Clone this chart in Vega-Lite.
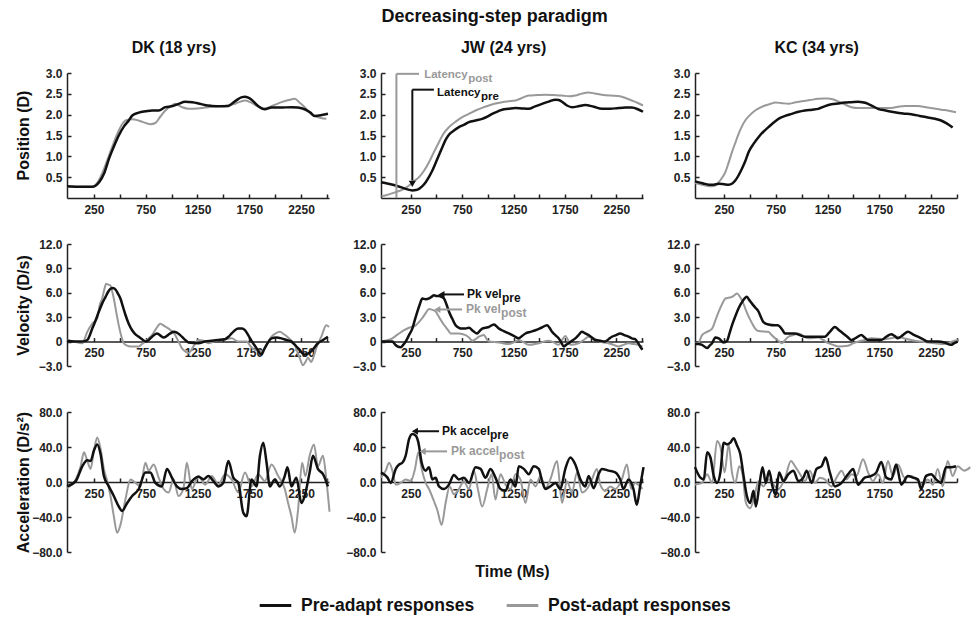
{
"$schema": "https://vega.github.io/schema/vega-lite/v6.json",
"background": "white",
"padding": {"left": 14, "top": 8, "right": 6, "bottom": 2},
"title": {"text": "Decreasing-step paradigm", "fontSize": 18, "fontWeight": "bold", "anchor": "middle", "frame": "bounds", "offset": 14, "color": "#111"},
"datasets": {
"dp": [
{"t":-10,"v":0.28,"s":"pre"},{"t":100,"v":0.27,"s":"pre"},{"t":235,"v":0.27,"s":"pre"},{"t":300,"v":0.38,"s":"pre"},{"t":350,"v":0.6,"s":"pre"},{"t":395,"v":0.94,"s":"pre"},{"t":440,"v":1.22,"s":"pre"},{"t":490,"v":1.5,"s":"pre"},{"t":540,"v":1.72,"s":"pre"},{"t":587,"v":1.86,"s":"pre"},{"t":620,"v":1.98,"s":"pre"},{"t":683,"v":2.05,"s":"pre"},{"t":750,"v":2.08,"s":"pre"},{"t":811,"v":2.1,"s":"pre"},{"t":875,"v":2.1,"s":"pre"},{"t":940,"v":2.18,"s":"pre"},{"t":1000,"v":2.2,"s":"pre"},{"t":1067,"v":2.26,"s":"pre"},{"t":1131,"v":2.31,"s":"pre"},{"t":1200,"v":2.3,"s":"pre"},{"t":1260,"v":2.27,"s":"pre"},{"t":1320,"v":2.23,"s":"pre"},{"t":1388,"v":2.21,"s":"pre"},{"t":1470,"v":2.2,"s":"pre"},{"t":1548,"v":2.21,"s":"pre"},{"t":1590,"v":2.28,"s":"pre"},{"t":1628,"v":2.35,"s":"pre"},{"t":1680,"v":2.42,"s":"pre"},{"t":1708,"v":2.43,"s":"pre"},{"t":1740,"v":2.41,"s":"pre"},{"t":1772,"v":2.36,"s":"pre"},{"t":1830,"v":2.22,"s":"pre"},{"t":1900,"v":2.13,"s":"pre"},{"t":1965,"v":2.17,"s":"pre"},{"t":2050,"v":2.17,"s":"pre"},{"t":2157,"v":2.18,"s":"pre"},{"t":2220,"v":2.17,"s":"pre"},{"t":2285,"v":2.13,"s":"pre"},{"t":2340,"v":2.05,"s":"pre"},{"t":2381,"v":1.97,"s":"pre"},{"t":2450,"v":1.99,"s":"pre"},{"t":2510,"v":2.02,"s":"pre"},
{"t":-10,"v":0.28,"s":"post"},{"t":100,"v":0.27,"s":"post"},{"t":235,"v":0.27,"s":"post"},{"t":300,"v":0.44,"s":"post"},{"t":350,"v":0.72,"s":"post"},{"t":395,"v":1.02,"s":"post"},{"t":440,"v":1.32,"s":"post"},{"t":490,"v":1.62,"s":"post"},{"t":530,"v":1.8,"s":"post"},{"t":555,"v":1.86,"s":"post"},{"t":620,"v":1.89,"s":"post"},{"t":680,"v":1.86,"s":"post"},{"t":715,"v":1.83,"s":"post"},{"t":795,"v":1.77,"s":"post"},{"t":843,"v":1.8,"s":"post"},{"t":890,"v":1.95,"s":"post"},{"t":940,"v":2.1,"s":"post"},{"t":990,"v":2.2,"s":"post"},{"t":1035,"v":2.26,"s":"post"},{"t":1100,"v":2.18,"s":"post"},{"t":1163,"v":2.14,"s":"post"},{"t":1250,"v":2.15,"s":"post"},{"t":1324,"v":2.17,"s":"post"},{"t":1440,"v":2.2,"s":"post"},{"t":1548,"v":2.22,"s":"post"},{"t":1620,"v":2.27,"s":"post"},{"t":1708,"v":2.34,"s":"post"},{"t":1760,"v":2.3,"s":"post"},{"t":1830,"v":2.2,"s":"post"},{"t":1900,"v":2.15,"s":"post"},{"t":1980,"v":2.22,"s":"post"},{"t":2061,"v":2.3,"s":"post"},{"t":2130,"v":2.35,"s":"post"},{"t":2189,"v":2.38,"s":"post"},{"t":2240,"v":2.28,"s":"post"},{"t":2285,"v":2.18,"s":"post"},{"t":2330,"v":2.05,"s":"post"},{"t":2381,"v":1.97,"s":"post"},{"t":2440,"v":1.92,"s":"post"},{"t":2494,"v":1.9,"s":"post"}
],
"jp": [
{"t":-40,"v":0.38,"s":"pre"},{"t":0,"v":0.36,"s":"pre"},{"t":104,"v":0.3,"s":"pre"},{"t":200,"v":0.22,"s":"pre"},{"t":265,"v":0.18,"s":"pre"},{"t":300,"v":0.19,"s":"pre"},{"t":330,"v":0.22,"s":"pre"},{"t":360,"v":0.28,"s":"pre"},{"t":395,"v":0.38,"s":"pre"},{"t":430,"v":0.52,"s":"pre"},{"t":460,"v":0.66,"s":"pre"},{"t":510,"v":0.95,"s":"pre"},{"t":557,"v":1.22,"s":"pre"},{"t":590,"v":1.4,"s":"pre"},{"t":621,"v":1.52,"s":"pre"},{"t":670,"v":1.62,"s":"pre"},{"t":718,"v":1.7,"s":"pre"},{"t":770,"v":1.76,"s":"pre"},{"t":816,"v":1.82,"s":"pre"},{"t":880,"v":1.86,"s":"pre"},{"t":945,"v":1.9,"s":"pre"},{"t":1000,"v":1.96,"s":"pre"},{"t":1042,"v":2.02,"s":"pre"},{"t":1100,"v":2.08,"s":"pre"},{"t":1139,"v":2.12,"s":"pre"},{"t":1200,"v":2.14,"s":"pre"},{"t":1269,"v":2.16,"s":"pre"},{"t":1330,"v":2.15,"s":"pre"},{"t":1398,"v":2.14,"s":"pre"},{"t":1460,"v":2.2,"s":"pre"},{"t":1528,"v":2.26,"s":"pre"},{"t":1600,"v":2.32,"s":"pre"},{"t":1657,"v":2.36,"s":"pre"},{"t":1690,"v":2.35,"s":"pre"},{"t":1722,"v":2.31,"s":"pre"},{"t":1770,"v":2.22,"s":"pre"},{"t":1819,"v":2.18,"s":"pre"},{"t":1880,"v":2.2,"s":"pre"},{"t":1948,"v":2.23,"s":"pre"},{"t":2030,"v":2.19,"s":"pre"},{"t":2110,"v":2.14,"s":"pre"},{"t":2190,"v":2.14,"s":"pre"},{"t":2272,"v":2.16,"s":"pre"},{"t":2340,"v":2.17,"s":"pre"},{"t":2401,"v":2.17,"s":"pre"},{"t":2460,"v":2.13,"s":"pre"},{"t":2510,"v":2.07,"s":"pre"},
{"t":-35,"v":0.04,"s":"post"},{"t":0,"v":0.06,"s":"post"},{"t":104,"v":0.14,"s":"post"},{"t":170,"v":0.2,"s":"post"},{"t":233,"v":0.3,"s":"post"},{"t":290,"v":0.42,"s":"post"},{"t":330,"v":0.5,"s":"post"},{"t":380,"v":0.66,"s":"post"},{"t":427,"v":0.86,"s":"post"},{"t":475,"v":1.1,"s":"post"},{"t":524,"v":1.34,"s":"post"},{"t":570,"v":1.55,"s":"post"},{"t":621,"v":1.7,"s":"post"},{"t":690,"v":1.84,"s":"post"},{"t":751,"v":1.94,"s":"post"},{"t":815,"v":2.02,"s":"post"},{"t":880,"v":2.1,"s":"post"},{"t":950,"v":2.17,"s":"post"},{"t":1010,"v":2.22,"s":"post"},{"t":1075,"v":2.27,"s":"post"},{"t":1139,"v":2.3,"s":"post"},{"t":1200,"v":2.32,"s":"post"},{"t":1269,"v":2.34,"s":"post"},{"t":1330,"v":2.4,"s":"post"},{"t":1398,"v":2.46,"s":"post"},{"t":1480,"v":2.47,"s":"post"},{"t":1560,"v":2.48,"s":"post"},{"t":1640,"v":2.47,"s":"post"},{"t":1722,"v":2.46,"s":"post"},{"t":1790,"v":2.44,"s":"post"},{"t":1851,"v":2.46,"s":"post"},{"t":1920,"v":2.51,"s":"post"},{"t":1980,"v":2.53,"s":"post"},{"t":2040,"v":2.51,"s":"post"},{"t":2110,"v":2.48,"s":"post"},{"t":2190,"v":2.46,"s":"post"},{"t":2272,"v":2.45,"s":"post"},{"t":2340,"v":2.4,"s":"post"},{"t":2401,"v":2.34,"s":"post"},{"t":2460,"v":2.28,"s":"post"},{"t":2510,"v":2.22,"s":"post"}
],
"kp": [
{"t":-30,"v":0.4,"s":"pre"},{"t":0,"v":0.38,"s":"pre"},{"t":50,"v":0.35,"s":"pre"},{"t":103,"v":0.32,"s":"pre"},{"t":150,"v":0.32,"s":"pre"},{"t":199,"v":0.34,"s":"pre"},{"t":250,"v":0.33,"s":"pre"},{"t":295,"v":0.32,"s":"pre"},{"t":330,"v":0.35,"s":"pre"},{"t":359,"v":0.42,"s":"pre"},{"t":390,"v":0.54,"s":"pre"},{"t":423,"v":0.7,"s":"pre"},{"t":455,"v":0.88,"s":"pre"},{"t":487,"v":1.1,"s":"pre"},{"t":535,"v":1.3,"s":"pre"},{"t":583,"v":1.46,"s":"pre"},{"t":630,"v":1.59,"s":"pre"},{"t":679,"v":1.7,"s":"pre"},{"t":730,"v":1.81,"s":"pre"},{"t":776,"v":1.9,"s":"pre"},{"t":840,"v":1.97,"s":"pre"},{"t":904,"v":2.02,"s":"pre"},{"t":970,"v":2.07,"s":"pre"},{"t":1032,"v":2.1,"s":"pre"},{"t":1100,"v":2.12,"s":"pre"},{"t":1160,"v":2.14,"s":"pre"},{"t":1220,"v":2.2,"s":"pre"},{"t":1288,"v":2.25,"s":"pre"},{"t":1350,"v":2.27,"s":"pre"},{"t":1417,"v":2.29,"s":"pre"},{"t":1480,"v":2.3,"s":"pre"},{"t":1545,"v":2.31,"s":"pre"},{"t":1600,"v":2.29,"s":"pre"},{"t":1641,"v":2.26,"s":"pre"},{"t":1690,"v":2.2,"s":"pre"},{"t":1737,"v":2.14,"s":"pre"},{"t":1810,"v":2.1,"s":"pre"},{"t":1897,"v":2.06,"s":"pre"},{"t":1980,"v":2.03,"s":"pre"},{"t":2058,"v":2.01,"s":"pre"},{"t":2140,"v":1.97,"s":"pre"},{"t":2218,"v":1.93,"s":"pre"},{"t":2290,"v":1.9,"s":"pre"},{"t":2346,"v":1.86,"s":"pre"},{"t":2400,"v":1.79,"s":"pre"},{"t":2458,"v":1.69,"s":"pre"},
{"t":-30,"v":0.36,"s":"post"},{"t":0,"v":0.34,"s":"post"},{"t":71,"v":0.3,"s":"post"},{"t":135,"v":0.28,"s":"post"},{"t":170,"v":0.31,"s":"post"},{"t":199,"v":0.38,"s":"post"},{"t":230,"v":0.48,"s":"post"},{"t":263,"v":0.62,"s":"post"},{"t":295,"v":0.85,"s":"post"},{"t":327,"v":1.1,"s":"post"},{"t":360,"v":1.33,"s":"post"},{"t":391,"v":1.54,"s":"post"},{"t":423,"v":1.72,"s":"post"},{"t":455,"v":1.86,"s":"post"},{"t":500,"v":1.99,"s":"post"},{"t":551,"v":2.1,"s":"post"},{"t":600,"v":2.17,"s":"post"},{"t":647,"v":2.22,"s":"post"},{"t":700,"v":2.26,"s":"post"},{"t":744,"v":2.29,"s":"post"},{"t":800,"v":2.28,"s":"post"},{"t":872,"v":2.26,"s":"post"},{"t":930,"v":2.29,"s":"post"},{"t":1000,"v":2.32,"s":"post"},{"t":1080,"v":2.35,"s":"post"},{"t":1160,"v":2.38,"s":"post"},{"t":1210,"v":2.39,"s":"post"},{"t":1256,"v":2.39,"s":"post"},{"t":1300,"v":2.37,"s":"post"},{"t":1353,"v":2.32,"s":"post"},{"t":1420,"v":2.24,"s":"post"},{"t":1481,"v":2.18,"s":"post"},{"t":1545,"v":2.16,"s":"post"},{"t":1609,"v":2.16,"s":"post"},{"t":1737,"v":2.16,"s":"post"},{"t":1865,"v":2.16,"s":"post"},{"t":1930,"v":2.19,"s":"post"},{"t":1994,"v":2.21,"s":"post"},{"t":2060,"v":2.21,"s":"post"},{"t":2122,"v":2.21,"s":"post"},{"t":2200,"v":2.18,"s":"post"},{"t":2282,"v":2.15,"s":"post"},{"t":2350,"v":2.12,"s":"post"},{"t":2410,"v":2.1,"s":"post"},{"t":2490,"v":2.06,"s":"post"}
],
"dv": [
{"t":-10,"v":0.1,"s":"pre"},{"t":60,"v":0,"s":"pre"},{"t":138,"v":0,"s":"pre"},{"t":186,"v":0.2,"s":"pre"},{"t":234,"v":1.6,"s":"pre"},{"t":266,"v":2.6,"s":"pre"},{"t":298,"v":3.7,"s":"pre"},{"t":330,"v":4.7,"s":"pre"},{"t":362,"v":5.5,"s":"pre"},{"t":386,"v":6.1,"s":"pre"},{"t":410,"v":6.5,"s":"pre"},{"t":434,"v":6.6,"s":"pre"},{"t":458,"v":6.4,"s":"pre"},{"t":482,"v":5.9,"s":"pre"},{"t":506,"v":5.3,"s":"pre"},{"t":530,"v":4.3,"s":"pre"},{"t":554,"v":3.3,"s":"pre"},{"t":586,"v":2.2,"s":"pre"},{"t":619,"v":1.4,"s":"pre"},{"t":651,"v":0.9,"s":"pre"},{"t":683,"v":0.6,"s":"pre"},{"t":715,"v":0.3,"s":"pre"},{"t":747,"v":0,"s":"pre"},{"t":779,"v":0.2,"s":"pre"},{"t":811,"v":0.6,"s":"pre"},{"t":859,"v":1.0,"s":"pre"},{"t":923,"v":0.5,"s":"pre"},{"t":987,"v":1.0,"s":"pre"},{"t":1019,"v":1.2,"s":"pre"},{"t":1051,"v":1.1,"s":"pre"},{"t":1083,"v":0.8,"s":"pre"},{"t":1123,"v":0.3,"s":"pre"},{"t":1163,"v":-0.1,"s":"pre"},{"t":1260,"v":-0.2,"s":"pre"},{"t":1320,"v":0,"s":"pre"},{"t":1388,"v":0.1,"s":"pre"},{"t":1450,"v":0.2,"s":"pre"},{"t":1516,"v":0.3,"s":"pre"},{"t":1550,"v":0.6,"s":"pre"},{"t":1580,"v":1.0,"s":"pre"},{"t":1612,"v":1.4,"s":"pre"},{"t":1644,"v":1.6,"s":"pre"},{"t":1680,"v":1.6,"s":"pre"},{"t":1708,"v":1.4,"s":"pre"},{"t":1740,"v":0.8,"s":"pre"},{"t":1772,"v":0.1,"s":"pre"},{"t":1820,"v":-0.8,"s":"pre"},{"t":1868,"v":-1.6,"s":"pre"},{"t":1892,"v":-1.0,"s":"pre"},{"t":1917,"v":-0.4,"s":"pre"},{"t":1965,"v":0.4,"s":"pre"},{"t":2010,"v":0.5,"s":"pre"},{"t":2061,"v":0.4,"s":"pre"},{"t":2110,"v":0.2,"s":"pre"},{"t":2157,"v":0,"s":"pre"},{"t":2221,"v":-0.8,"s":"pre"},{"t":2285,"v":-1.6,"s":"pre"},{"t":2349,"v":-1.2,"s":"pre"},{"t":2413,"v":-0.2,"s":"pre"},{"t":2462,"v":0.2,"s":"pre"},{"t":2510,"v":0.6,"s":"pre"},
{"t":-10,"v":0.2,"s":"post"},{"t":60,"v":0,"s":"post"},{"t":138,"v":-0.2,"s":"post"},{"t":162,"v":0.4,"s":"post"},{"t":186,"v":1.2,"s":"post"},{"t":234,"v":2.2,"s":"post"},{"t":282,"v":2.9,"s":"post"},{"t":306,"v":4.5,"s":"post"},{"t":330,"v":5.3,"s":"post"},{"t":350,"v":6.4,"s":"post"},{"t":368,"v":7.1,"s":"post"},{"t":390,"v":7.0,"s":"post"},{"t":410,"v":6.9,"s":"post"},{"t":426,"v":6.2,"s":"post"},{"t":442,"v":5.3,"s":"post"},{"t":466,"v":3.6,"s":"post"},{"t":490,"v":2.0,"s":"post"},{"t":514,"v":0.7,"s":"post"},{"t":538,"v":-0.2,"s":"post"},{"t":570,"v":-0.5,"s":"post"},{"t":603,"v":-0.6,"s":"post"},{"t":683,"v":-0.6,"s":"post"},{"t":715,"v":-0.3,"s":"post"},{"t":747,"v":0,"s":"post"},{"t":779,"v":0.4,"s":"post"},{"t":811,"v":0.8,"s":"post"},{"t":851,"v":1.6,"s":"post"},{"t":891,"v":2.2,"s":"post"},{"t":931,"v":1.9,"s":"post"},{"t":971,"v":1.6,"s":"post"},{"t":1035,"v":0.8,"s":"post"},{"t":1067,"v":0,"s":"post"},{"t":1099,"v":-0.8,"s":"post"},{"t":1131,"v":-1.2,"s":"post"},{"t":1163,"v":-1.4,"s":"post"},{"t":1211,"v":-0.6,"s":"post"},{"t":1260,"v":0.2,"s":"post"},{"t":1308,"v":0.1,"s":"post"},{"t":1356,"v":-0.2,"s":"post"},{"t":1404,"v":0,"s":"post"},{"t":1452,"v":0.2,"s":"post"},{"t":1516,"v":0.3,"s":"post"},{"t":1580,"v":0.4,"s":"post"},{"t":1644,"v":0,"s":"post"},{"t":1724,"v":0,"s":"post"},{"t":1764,"v":-0.6,"s":"post"},{"t":1804,"v":-1.0,"s":"post"},{"t":1868,"v":-1.2,"s":"post"},{"t":1917,"v":-0.4,"s":"post"},{"t":1965,"v":0.6,"s":"post"},{"t":2005,"v":1.0,"s":"post"},{"t":2045,"v":1.2,"s":"post"},{"t":2085,"v":0.9,"s":"post"},{"t":2125,"v":0.5,"s":"post"},{"t":2157,"v":0.1,"s":"post"},{"t":2189,"v":-0.4,"s":"post"},{"t":2213,"v":-1.2,"s":"post"},{"t":2237,"v":-2.0,"s":"post"},{"t":2269,"v":-2.9,"s":"post"},{"t":2293,"v":-2.5,"s":"post"},{"t":2317,"v":-2.0,"s":"post"},{"t":2349,"v":-2.5,"s":"post"},{"t":2373,"v":-1.8,"s":"post"},{"t":2397,"v":-0.8,"s":"post"},{"t":2446,"v":0.6,"s":"post"},{"t":2494,"v":2.0,"s":"post"},{"t":2520,"v":1.8,"s":"post"}
],
"jv": [
{"t":-40,"v":0,"s":"pre"},{"t":71,"v":0,"s":"pre"},{"t":100,"v":-0.4,"s":"pre"},{"t":120,"v":-0.6,"s":"pre"},{"t":152,"v":-0.7,"s":"pre"},{"t":176,"v":-0.4,"s":"pre"},{"t":200,"v":0,"s":"pre"},{"t":233,"v":0.8,"s":"pre"},{"t":265,"v":1.6,"s":"pre"},{"t":290,"v":2.7,"s":"pre"},{"t":314,"v":3.7,"s":"pre"},{"t":338,"v":4.6,"s":"pre"},{"t":362,"v":5.3,"s":"pre"},{"t":395,"v":5.2,"s":"pre"},{"t":427,"v":5.3,"s":"pre"},{"t":451,"v":5.5,"s":"pre"},{"t":476,"v":5.7,"s":"pre"},{"t":500,"v":5.6,"s":"pre"},{"t":524,"v":5.6,"s":"pre"},{"t":549,"v":5.5,"s":"pre"},{"t":573,"v":5.3,"s":"pre"},{"t":597,"v":4.6,"s":"pre"},{"t":621,"v":3.7,"s":"pre"},{"t":654,"v":2.8,"s":"pre"},{"t":686,"v":2.0,"s":"pre"},{"t":718,"v":1.7,"s":"pre"},{"t":751,"v":1.6,"s":"pre"},{"t":783,"v":1.6,"s":"pre"},{"t":816,"v":1.7,"s":"pre"},{"t":856,"v":1.3,"s":"pre"},{"t":896,"v":1.0,"s":"pre"},{"t":920,"v":1.3,"s":"pre"},{"t":945,"v":1.6,"s":"pre"},{"t":977,"v":1.7,"s":"pre"},{"t":1010,"v":1.8,"s":"pre"},{"t":1058,"v":2.1,"s":"pre"},{"t":1083,"v":1.9,"s":"pre"},{"t":1107,"v":1.6,"s":"pre"},{"t":1155,"v":1.3,"s":"pre"},{"t":1204,"v":1.0,"s":"pre"},{"t":1252,"v":0.7,"s":"pre"},{"t":1301,"v":0.4,"s":"pre"},{"t":1333,"v":0.7,"s":"pre"},{"t":1366,"v":1.0,"s":"pre"},{"t":1415,"v":1.2,"s":"pre"},{"t":1463,"v":1.4,"s":"pre"},{"t":1520,"v":1.7,"s":"pre"},{"t":1576,"v":2.0,"s":"pre"},{"t":1600,"v":1.7,"s":"pre"},{"t":1625,"v":1.2,"s":"pre"},{"t":1657,"v":0.8,"s":"pre"},{"t":1689,"v":0.4,"s":"pre"},{"t":1714,"v":-0.1,"s":"pre"},{"t":1738,"v":-0.6,"s":"pre"},{"t":1762,"v":-0.4,"s":"pre"},{"t":1786,"v":-0.2,"s":"pre"},{"t":1818,"v":0.1,"s":"pre"},{"t":1851,"v":0.4,"s":"pre"},{"t":1883,"v":0.8,"s":"pre"},{"t":1916,"v":1.2,"s":"pre"},{"t":1948,"v":1.0,"s":"pre"},{"t":1981,"v":0.8,"s":"pre"},{"t":2013,"v":0.5,"s":"pre"},{"t":2045,"v":0.2,"s":"pre"},{"t":2094,"v":0.1,"s":"pre"},{"t":2142,"v":0,"s":"pre"},{"t":2175,"v":0.3,"s":"pre"},{"t":2207,"v":0.6,"s":"pre"},{"t":2248,"v":0.8,"s":"pre"},{"t":2288,"v":1.0,"s":"pre"},{"t":2328,"v":0.8,"s":"pre"},{"t":2369,"v":0.6,"s":"pre"},{"t":2401,"v":0.4,"s":"pre"},{"t":2434,"v":0.3,"s":"pre"},{"t":2458,"v":-0.1,"s":"pre"},{"t":2482,"v":-0.6,"s":"pre"},{"t":2505,"v":-1.0,"s":"pre"},
{"t":-40,"v":0,"s":"post"},{"t":0,"v":0.1,"s":"post"},{"t":71,"v":0.4,"s":"post"},{"t":104,"v":0.7,"s":"post"},{"t":136,"v":1.0,"s":"post"},{"t":185,"v":1.4,"s":"post"},{"t":233,"v":1.7,"s":"post"},{"t":298,"v":2.0,"s":"post"},{"t":330,"v":2.4,"s":"post"},{"t":362,"v":2.9,"s":"post"},{"t":395,"v":3.5,"s":"post"},{"t":427,"v":4.0,"s":"post"},{"t":460,"v":3.9,"s":"post"},{"t":492,"v":3.7,"s":"post"},{"t":516,"v":3.2,"s":"post"},{"t":540,"v":2.7,"s":"post"},{"t":565,"v":2.2,"s":"post"},{"t":589,"v":1.8,"s":"post"},{"t":613,"v":1.4,"s":"post"},{"t":638,"v":1.0,"s":"post"},{"t":718,"v":1.0,"s":"post"},{"t":783,"v":0.8,"s":"post"},{"t":816,"v":0.5,"s":"post"},{"t":848,"v":0.1,"s":"post"},{"t":880,"v":0.3,"s":"post"},{"t":913,"v":0.6,"s":"post"},{"t":961,"v":0.8,"s":"post"},{"t":985,"v":0.4,"s":"post"},{"t":1010,"v":0,"s":"post"},{"t":1107,"v":-0.1,"s":"post"},{"t":1204,"v":-0.3,"s":"post"},{"t":1252,"v":-0.1,"s":"post"},{"t":1301,"v":0.2,"s":"post"},{"t":1350,"v":-0.1,"s":"post"},{"t":1398,"v":-0.4,"s":"post"},{"t":1495,"v":-0.2,"s":"post"},{"t":1592,"v":0.1,"s":"post"},{"t":1640,"v":-0.1,"s":"post"},{"t":1689,"v":-0.4,"s":"post"},{"t":1722,"v":0.2,"s":"post"},{"t":1754,"v":0.7,"s":"post"},{"t":1780,"v":0.2,"s":"post"},{"t":1803,"v":-0.4,"s":"post"},{"t":1883,"v":-0.2,"s":"post"},{"t":1932,"v":0.2,"s":"post"},{"t":1981,"v":0.6,"s":"post"},{"t":2030,"v":0.4,"s":"post"},{"t":2078,"v":0.1,"s":"post"},{"t":2126,"v":-0.1,"s":"post"},{"t":2175,"v":-0.2,"s":"post"},{"t":2223,"v":-0.4,"s":"post"},{"t":2272,"v":-0.6,"s":"post"},{"t":2320,"v":-0.4,"s":"post"},{"t":2369,"v":-0.2,"s":"post"},{"t":2417,"v":-0.3,"s":"post"},{"t":2466,"v":-0.4,"s":"post"},{"t":2505,"v":-0.6,"s":"post"}
],
"kv": [
{"t":-30,"v":-0.3,"s":"pre"},{"t":0,"v":-0.3,"s":"pre"},{"t":38,"v":-0.4,"s":"pre"},{"t":87,"v":-0.8,"s":"pre"},{"t":111,"v":-0.5,"s":"pre"},{"t":135,"v":-0.2,"s":"pre"},{"t":167,"v":0.5,"s":"pre"},{"t":199,"v":0.4,"s":"pre"},{"t":247,"v":-0.1,"s":"pre"},{"t":279,"v":0.1,"s":"pre"},{"t":303,"v":1.0,"s":"pre"},{"t":327,"v":2.0,"s":"pre"},{"t":359,"v":3.1,"s":"pre"},{"t":391,"v":4.1,"s":"pre"},{"t":431,"v":5.0,"s":"pre"},{"t":471,"v":5.5,"s":"pre"},{"t":495,"v":5.1,"s":"pre"},{"t":519,"v":4.7,"s":"pre"},{"t":551,"v":4.2,"s":"pre"},{"t":583,"v":3.7,"s":"pre"},{"t":607,"v":3.0,"s":"pre"},{"t":631,"v":2.4,"s":"pre"},{"t":679,"v":2.1,"s":"pre"},{"t":744,"v":2.0,"s":"pre"},{"t":768,"v":2.0,"s":"pre"},{"t":792,"v":1.8,"s":"pre"},{"t":816,"v":1.4,"s":"pre"},{"t":840,"v":1.0,"s":"pre"},{"t":936,"v":1.0,"s":"pre"},{"t":1032,"v":0.6,"s":"pre"},{"t":1224,"v":0.6,"s":"pre"},{"t":1272,"v":1.2,"s":"pre"},{"t":1321,"v":1.8,"s":"pre"},{"t":1361,"v":1.4,"s":"pre"},{"t":1401,"v":1.0,"s":"pre"},{"t":1441,"v":0.6,"s":"pre"},{"t":1481,"v":0.2,"s":"pre"},{"t":1529,"v":0.5,"s":"pre"},{"t":1577,"v":0.8,"s":"pre"},{"t":1609,"v":0.5,"s":"pre"},{"t":1641,"v":0.2,"s":"pre"},{"t":1769,"v":0.2,"s":"pre"},{"t":1817,"v":0.6,"s":"pre"},{"t":1865,"v":0.9,"s":"pre"},{"t":1897,"v":0.7,"s":"pre"},{"t":1929,"v":0.4,"s":"pre"},{"t":1977,"v":0.8,"s":"pre"},{"t":2026,"v":1.2,"s":"pre"},{"t":2074,"v":0.9,"s":"pre"},{"t":2122,"v":0.6,"s":"pre"},{"t":2170,"v":0.3,"s":"pre"},{"t":2218,"v":0,"s":"pre"},{"t":2314,"v":0,"s":"pre"},{"t":2378,"v":-0.1,"s":"pre"},{"t":2442,"v":-0.4,"s":"pre"},{"t":2474,"v":-0.2,"s":"pre"},{"t":2506,"v":0,"s":"pre"},
{"t":-30,"v":-0.2,"s":"post"},{"t":0,"v":-0.2,"s":"post"},{"t":38,"v":0.8,"s":"post"},{"t":87,"v":1.2,"s":"post"},{"t":135,"v":1.6,"s":"post"},{"t":167,"v":2.6,"s":"post"},{"t":199,"v":3.7,"s":"post"},{"t":231,"v":4.6,"s":"post"},{"t":263,"v":5.3,"s":"post"},{"t":295,"v":5.4,"s":"post"},{"t":327,"v":5.5,"s":"post"},{"t":351,"v":5.7,"s":"post"},{"t":375,"v":5.9,"s":"post"},{"t":399,"v":5.6,"s":"post"},{"t":423,"v":5.1,"s":"post"},{"t":455,"v":4.1,"s":"post"},{"t":487,"v":3.1,"s":"post"},{"t":519,"v":2.3,"s":"post"},{"t":551,"v":1.6,"s":"post"},{"t":583,"v":1.3,"s":"post"},{"t":679,"v":1.2,"s":"post"},{"t":711,"v":0.8,"s":"post"},{"t":744,"v":0.4,"s":"post"},{"t":776,"v":0.1,"s":"post"},{"t":808,"v":-0.2,"s":"post"},{"t":840,"v":0.2,"s":"post"},{"t":872,"v":0.6,"s":"post"},{"t":920,"v":0.8,"s":"post"},{"t":968,"v":1.0,"s":"post"},{"t":1016,"v":0.7,"s":"post"},{"t":1064,"v":0.4,"s":"post"},{"t":1160,"v":0.5,"s":"post"},{"t":1208,"v":0.2,"s":"post"},{"t":1256,"v":-0.2,"s":"post"},{"t":1304,"v":-0.4,"s":"post"},{"t":1353,"v":-0.6,"s":"post"},{"t":1449,"v":-0.5,"s":"post"},{"t":1497,"v":-0.2,"s":"post"},{"t":1545,"v":0,"s":"post"},{"t":1609,"v":0.2,"s":"post"},{"t":1673,"v":0.4,"s":"post"},{"t":1801,"v":0.3,"s":"post"},{"t":1865,"v":0.4,"s":"post"},{"t":1929,"v":0.6,"s":"post"},{"t":1994,"v":0.4,"s":"post"},{"t":2058,"v":0.2,"s":"post"},{"t":2154,"v":0,"s":"post"},{"t":2282,"v":-0.2,"s":"post"},{"t":2378,"v":-0.3,"s":"post"},{"t":2426,"v":-0.1,"s":"post"},{"t":2474,"v":0.1,"s":"post"},{"t":2520,"v":0.2,"s":"post"}
],
"da": [
{"t":-10,"v":-5,"s":"pre"},{"t":74,"v":1,"s":"pre"},{"t":138,"v":18,"s":"pre"},{"t":186,"v":25,"s":"pre"},{"t":218,"v":24,"s":"pre"},{"t":250,"v":36,"s":"pre"},{"t":282,"v":43,"s":"pre"},{"t":314,"v":32,"s":"pre"},{"t":346,"v":7,"s":"pre"},{"t":394,"v":-5,"s":"pre"},{"t":442,"v":-16,"s":"pre"},{"t":490,"v":-28,"s":"pre"},{"t":522,"v":-33,"s":"pre"},{"t":571,"v":-24,"s":"pre"},{"t":619,"v":-16,"s":"pre"},{"t":683,"v":-8,"s":"pre"},{"t":747,"v":11,"s":"pre"},{"t":795,"v":11,"s":"pre"},{"t":843,"v":-1,"s":"pre"},{"t":907,"v":-5,"s":"pre"},{"t":955,"v":15,"s":"pre"},{"t":1003,"v":5,"s":"pre"},{"t":1051,"v":-5,"s":"pre"},{"t":1099,"v":-8,"s":"pre"},{"t":1147,"v":-7,"s":"pre"},{"t":1196,"v":1,"s":"pre"},{"t":1260,"v":6,"s":"pre"},{"t":1308,"v":3,"s":"pre"},{"t":1356,"v":7,"s":"pre"},{"t":1404,"v":1,"s":"pre"},{"t":1452,"v":-5,"s":"pre"},{"t":1500,"v":-1,"s":"pre"},{"t":1548,"v":24,"s":"pre"},{"t":1596,"v":5,"s":"pre"},{"t":1644,"v":-1,"s":"pre"},{"t":1692,"v":-35,"s":"pre"},{"t":1724,"v":-39,"s":"pre"},{"t":1772,"v":3,"s":"pre"},{"t":1820,"v":-5,"s":"pre"},{"t":1853,"v":30,"s":"pre"},{"t":1885,"v":45,"s":"pre"},{"t":1917,"v":22,"s":"pre"},{"t":1949,"v":-5,"s":"pre"},{"t":1997,"v":3,"s":"pre"},{"t":2045,"v":-5,"s":"pre"},{"t":2093,"v":7,"s":"pre"},{"t":2119,"v":17,"s":"pre"},{"t":2157,"v":-5,"s":"pre"},{"t":2205,"v":5,"s":"pre"},{"t":2253,"v":-24,"s":"pre"},{"t":2285,"v":-16,"s":"pre"},{"t":2333,"v":11,"s":"pre"},{"t":2365,"v":30,"s":"pre"},{"t":2413,"v":15,"s":"pre"},{"t":2462,"v":9,"s":"pre"},{"t":2510,"v":-5,"s":"pre"},
{"t":-10,"v":-7,"s":"post"},{"t":74,"v":3,"s":"post"},{"t":122,"v":18,"s":"post"},{"t":154,"v":34,"s":"post"},{"t":186,"v":24,"s":"post"},{"t":218,"v":15,"s":"post"},{"t":250,"v":36,"s":"post"},{"t":282,"v":51,"s":"post"},{"t":314,"v":38,"s":"post"},{"t":346,"v":15,"s":"post"},{"t":378,"v":1,"s":"post"},{"t":410,"v":-16,"s":"post"},{"t":442,"v":-39,"s":"post"},{"t":474,"v":-58,"s":"post"},{"t":506,"v":-49,"s":"post"},{"t":554,"v":-20,"s":"post"},{"t":603,"v":3,"s":"post"},{"t":651,"v":-1,"s":"post"},{"t":699,"v":-5,"s":"post"},{"t":747,"v":22,"s":"post"},{"t":779,"v":13,"s":"post"},{"t":827,"v":20,"s":"post"},{"t":875,"v":5,"s":"post"},{"t":923,"v":-8,"s":"post"},{"t":971,"v":-12,"s":"post"},{"t":1019,"v":3,"s":"post"},{"t":1067,"v":-16,"s":"post"},{"t":1115,"v":-7,"s":"post"},{"t":1147,"v":22,"s":"post"},{"t":1196,"v":-8,"s":"post"},{"t":1260,"v":7,"s":"post"},{"t":1324,"v":-3,"s":"post"},{"t":1388,"v":7,"s":"post"},{"t":1452,"v":-3,"s":"post"},{"t":1516,"v":9,"s":"post"},{"t":1580,"v":3,"s":"post"},{"t":1644,"v":-12,"s":"post"},{"t":1708,"v":11,"s":"post"},{"t":1772,"v":-5,"s":"post"},{"t":1836,"v":9,"s":"post"},{"t":1901,"v":1,"s":"post"},{"t":1965,"v":20,"s":"post"},{"t":2029,"v":7,"s":"post"},{"t":2093,"v":-8,"s":"post"},{"t":2125,"v":-24,"s":"post"},{"t":2157,"v":-39,"s":"post"},{"t":2189,"v":-58,"s":"post"},{"t":2221,"v":-32,"s":"post"},{"t":2260,"v":22,"s":"post"},{"t":2292,"v":7,"s":"post"},{"t":2333,"v":30,"s":"post"},{"t":2375,"v":43,"s":"post"},{"t":2413,"v":18,"s":"post"},{"t":2462,"v":30,"s":"post"},{"t":2494,"v":3,"s":"post"},{"t":2525,"v":-34,"s":"post"}
],
"ja": [
{"t":-40,"v":11,"s":"pre"},{"t":23,"v":5,"s":"pre"},{"t":55,"v":-1,"s":"pre"},{"t":104,"v":15,"s":"pre"},{"t":136,"v":20,"s":"pre"},{"t":168,"v":22,"s":"pre"},{"t":200,"v":30,"s":"pre"},{"t":233,"v":49,"s":"pre"},{"t":265,"v":55,"s":"pre"},{"t":298,"v":53,"s":"pre"},{"t":324,"v":45,"s":"pre"},{"t":356,"v":22,"s":"pre"},{"t":395,"v":13,"s":"pre"},{"t":427,"v":17,"s":"pre"},{"t":460,"v":3,"s":"pre"},{"t":492,"v":5,"s":"pre"},{"t":524,"v":-5,"s":"pre"},{"t":573,"v":-8,"s":"pre"},{"t":621,"v":-3,"s":"pre"},{"t":670,"v":8,"s":"pre"},{"t":718,"v":3,"s":"pre"},{"t":767,"v":5,"s":"pre"},{"t":816,"v":-1,"s":"pre"},{"t":880,"v":17,"s":"pre"},{"t":929,"v":15,"s":"pre"},{"t":977,"v":5,"s":"pre"},{"t":1026,"v":15,"s":"pre"},{"t":1074,"v":5,"s":"pre"},{"t":1123,"v":-8,"s":"pre"},{"t":1172,"v":-10,"s":"pre"},{"t":1220,"v":3,"s":"pre"},{"t":1269,"v":-5,"s":"pre"},{"t":1301,"v":18,"s":"pre"},{"t":1350,"v":15,"s":"pre"},{"t":1398,"v":9,"s":"pre"},{"t":1447,"v":18,"s":"pre"},{"t":1495,"v":15,"s":"pre"},{"t":1528,"v":1,"s":"pre"},{"t":1560,"v":-8,"s":"pre"},{"t":1608,"v":-5,"s":"pre"},{"t":1657,"v":-1,"s":"pre"},{"t":1706,"v":-8,"s":"pre"},{"t":1754,"v":15,"s":"pre"},{"t":1803,"v":28,"s":"pre"},{"t":1851,"v":20,"s":"pre"},{"t":1900,"v":3,"s":"pre"},{"t":1948,"v":-5,"s":"pre"},{"t":1981,"v":7,"s":"pre"},{"t":2029,"v":-7,"s":"pre"},{"t":2078,"v":9,"s":"pre"},{"t":2110,"v":15,"s":"pre"},{"t":2175,"v":13,"s":"pre"},{"t":2240,"v":11,"s":"pre"},{"t":2288,"v":3,"s":"pre"},{"t":2320,"v":-8,"s":"pre"},{"t":2369,"v":3,"s":"pre"},{"t":2417,"v":-8,"s":"pre"},{"t":2450,"v":-26,"s":"pre"},{"t":2482,"v":-5,"s":"pre"},{"t":2515,"v":17,"s":"pre"},
{"t":-40,"v":5,"s":"post"},{"t":6,"v":13,"s":"post"},{"t":39,"v":22,"s":"post"},{"t":71,"v":13,"s":"post"},{"t":104,"v":-3,"s":"post"},{"t":152,"v":-1,"s":"post"},{"t":200,"v":3,"s":"post"},{"t":249,"v":1,"s":"post"},{"t":291,"v":15,"s":"post"},{"t":324,"v":34,"s":"post"},{"t":356,"v":15,"s":"post"},{"t":395,"v":-1,"s":"post"},{"t":427,"v":-8,"s":"post"},{"t":476,"v":-22,"s":"post"},{"t":508,"v":-32,"s":"post"},{"t":550,"v":-49,"s":"post"},{"t":589,"v":-24,"s":"post"},{"t":628,"v":-5,"s":"post"},{"t":670,"v":-14,"s":"post"},{"t":718,"v":-8,"s":"post"},{"t":767,"v":1,"s":"post"},{"t":816,"v":-8,"s":"post"},{"t":864,"v":13,"s":"post"},{"t":906,"v":-10,"s":"post"},{"t":945,"v":-28,"s":"post"},{"t":994,"v":-8,"s":"post"},{"t":1036,"v":9,"s":"post"},{"t":1074,"v":-20,"s":"post"},{"t":1123,"v":9,"s":"post"},{"t":1172,"v":-3,"s":"post"},{"t":1220,"v":-8,"s":"post"},{"t":1269,"v":9,"s":"post"},{"t":1317,"v":3,"s":"post"},{"t":1366,"v":-24,"s":"post"},{"t":1415,"v":3,"s":"post"},{"t":1463,"v":-5,"s":"post"},{"t":1512,"v":7,"s":"post"},{"t":1560,"v":-7,"s":"post"},{"t":1608,"v":3,"s":"post"},{"t":1673,"v":24,"s":"post"},{"t":1722,"v":-24,"s":"post"},{"t":1770,"v":1,"s":"post"},{"t":1819,"v":-12,"s":"post"},{"t":1867,"v":11,"s":"post"},{"t":1916,"v":-12,"s":"post"},{"t":1964,"v":-8,"s":"post"},{"t":2013,"v":3,"s":"post"},{"t":2061,"v":15,"s":"post"},{"t":2094,"v":-3,"s":"post"},{"t":2142,"v":-10,"s":"post"},{"t":2191,"v":-5,"s":"post"},{"t":2240,"v":-8,"s":"post"},{"t":2304,"v":3,"s":"post"},{"t":2353,"v":20,"s":"post"},{"t":2395,"v":-8,"s":"post"},{"t":2434,"v":-1,"s":"post"},{"t":2482,"v":-5,"s":"post"},{"t":2505,"v":-8,"s":"post"}
],
"ka": [
{"t":-30,"v":17,"s":"pre"},{"t":22,"v":5,"s":"pre"},{"t":55,"v":3,"s":"pre"},{"t":87,"v":34,"s":"pre"},{"t":119,"v":28,"s":"pre"},{"t":151,"v":7,"s":"pre"},{"t":183,"v":-1,"s":"pre"},{"t":215,"v":11,"s":"pre"},{"t":247,"v":45,"s":"pre"},{"t":279,"v":43,"s":"pre"},{"t":311,"v":45,"s":"pre"},{"t":343,"v":50,"s":"pre"},{"t":375,"v":42,"s":"pre"},{"t":407,"v":32,"s":"pre"},{"t":439,"v":7,"s":"pre"},{"t":471,"v":-16,"s":"pre"},{"t":503,"v":-24,"s":"pre"},{"t":535,"v":-10,"s":"pre"},{"t":558,"v":-28,"s":"pre"},{"t":590,"v":-5,"s":"pre"},{"t":622,"v":17,"s":"pre"},{"t":654,"v":-1,"s":"pre"},{"t":686,"v":13,"s":"pre"},{"t":718,"v":-5,"s":"pre"},{"t":750,"v":-15,"s":"pre"},{"t":782,"v":11,"s":"pre"},{"t":824,"v":1,"s":"pre"},{"t":872,"v":9,"s":"pre"},{"t":920,"v":13,"s":"pre"},{"t":968,"v":1,"s":"pre"},{"t":1016,"v":5,"s":"pre"},{"t":1048,"v":13,"s":"pre"},{"t":1096,"v":-1,"s":"pre"},{"t":1144,"v":15,"s":"pre"},{"t":1192,"v":18,"s":"pre"},{"t":1231,"v":28,"s":"pre"},{"t":1272,"v":11,"s":"pre"},{"t":1321,"v":-5,"s":"pre"},{"t":1385,"v":-1,"s":"pre"},{"t":1449,"v":9,"s":"pre"},{"t":1497,"v":15,"s":"pre"},{"t":1545,"v":-3,"s":"pre"},{"t":1609,"v":5,"s":"pre"},{"t":1673,"v":7,"s":"pre"},{"t":1721,"v":11,"s":"pre"},{"t":1769,"v":23,"s":"pre"},{"t":1817,"v":5,"s":"pre"},{"t":1865,"v":3,"s":"pre"},{"t":1913,"v":20,"s":"pre"},{"t":1962,"v":-3,"s":"pre"},{"t":2026,"v":7,"s":"pre"},{"t":2074,"v":5,"s":"pre"},{"t":2122,"v":3,"s":"pre"},{"t":2154,"v":-8,"s":"pre"},{"t":2202,"v":7,"s":"pre"},{"t":2250,"v":9,"s":"pre"},{"t":2298,"v":3,"s":"pre"},{"t":2346,"v":-1,"s":"pre"},{"t":2394,"v":17,"s":"pre"},{"t":2442,"v":17,"s":"pre"},{"t":2490,"v":18,"s":"pre"},
{"t":-30,"v":-3,"s":"post"},{"t":38,"v":-1,"s":"post"},{"t":87,"v":9,"s":"post"},{"t":135,"v":-1,"s":"post"},{"t":183,"v":47,"s":"post"},{"t":215,"v":40,"s":"post"},{"t":256,"v":11,"s":"post"},{"t":295,"v":43,"s":"post"},{"t":327,"v":11,"s":"post"},{"t":359,"v":-1,"s":"post"},{"t":397,"v":18,"s":"post"},{"t":429,"v":9,"s":"post"},{"t":462,"v":-24,"s":"post"},{"t":503,"v":-30,"s":"post"},{"t":545,"v":-16,"s":"post"},{"t":583,"v":1,"s":"post"},{"t":631,"v":-5,"s":"post"},{"t":679,"v":3,"s":"post"},{"t":728,"v":-3,"s":"post"},{"t":776,"v":-8,"s":"post"},{"t":840,"v":5,"s":"post"},{"t":897,"v":24,"s":"post"},{"t":936,"v":18,"s":"post"},{"t":984,"v":9,"s":"post"},{"t":1032,"v":1,"s":"post"},{"t":1080,"v":13,"s":"post"},{"t":1128,"v":-1,"s":"post"},{"t":1176,"v":5,"s":"post"},{"t":1224,"v":3,"s":"post"},{"t":1288,"v":-5,"s":"post"},{"t":1337,"v":5,"s":"post"},{"t":1385,"v":13,"s":"post"},{"t":1433,"v":3,"s":"post"},{"t":1481,"v":9,"s":"post"},{"t":1529,"v":7,"s":"post"},{"t":1593,"v":26,"s":"post"},{"t":1641,"v":11,"s":"post"},{"t":1689,"v":1,"s":"post"},{"t":1737,"v":9,"s":"post"},{"t":1785,"v":-1,"s":"post"},{"t":1833,"v":24,"s":"post"},{"t":1881,"v":7,"s":"post"},{"t":1929,"v":20,"s":"post"},{"t":1994,"v":5,"s":"post"},{"t":2058,"v":7,"s":"post"},{"t":2122,"v":1,"s":"post"},{"t":2170,"v":-3,"s":"post"},{"t":2218,"v":3,"s":"post"},{"t":2266,"v":-3,"s":"post"},{"t":2314,"v":15,"s":"post"},{"t":2362,"v":-5,"s":"post"},{"t":2410,"v":24,"s":"post"},{"t":2458,"v":7,"s":"post"},{"t":2506,"v":18,"s":"post"},{"t":2570,"v":13,"s":"post"},{"t":2628,"v":17,"s":"post"}
],
"jpr": [
{"t":110,"v":0,"t2":110,"v2":2.98,"s":"post"},{"t":110,"v":2.98,"t2":330,"v2":2.98,"s":"post"},
{"t":265,"v":0.42,"t2":265,"v2":2.6,"s":"pre"},{"t":265,"v":2.6,"t2":475,"v2":2.6,"s":"pre"}
],
"jparr": [{"t":265,"v":0.34,"s":"pre"}],
"jpt": [{"t":380,"v":2.95,"label":"Latency","sub":"post","s":"post"},{"t":505,"v":2.53,"label":"Latency","sub":"pre","s":"pre"}],
"jvr": [{"t":560,"v":5.8,"t2":768,"v2":5.8,"s":"pre"},{"t":520,"v":3.95,"t2":749,"v2":3.95,"s":"post"}],
"jvarr": [{"t":548,"v":5.8,"s":"pre"},{"t":508,"v":3.95,"s":"post"}],
"jvt": [{"t":797,"v":5.8,"label":"Pk vel","sub":"pre","s":"pre"},{"t":788,"v":3.95,"label":"Pk vel","sub":"post","s":"post"}],
"jar": [{"t":302,"v":58,"t2":525,"v2":58,"s":"pre"},{"t":377,"v":35,"t2":603,"v2":35,"s":"post"}],
"jaarr": [{"t":290,"v":58,"s":"pre"},{"t":365,"v":35,"s":"post"}],
"jat": [{"t":554,"v":58,"label":"Pk accel","sub":"pre","s":"pre"},{"t":642,"v":35,"label":"Pk accel","sub":"post","s":"post"}]
},
"columns": 3,
"spacing": {"row": 46, "column": 52},
"bounds": "flush",
"concat": [
{"width": 262, "height": 125, "title": {"text": "DK (18 yrs)", "frame": "bounds", "anchor": "middle", "offset": 11},
 "encoding": {
  "x": {"field": "t", "type": "quantitative", "scale": {"domain": [-10, 2520], "nice": false, "zero": false}, "axis": {"values": [250,500,750,1000,1250,1500,1750,2000,2250,2500], "labelExpr": "datum.value % 500 == 250 ? datum.label : ''", "format": "d", "title": null}},
  "y": {"field": "v", "type": "quantitative", "scale": {"domain": [0, 3], "nice": false}, "axis": {"values": [0.5,1,1.5,2,2.5,3], "format": ".1f", "title": "Position (D)", "titleY": 62}}
 },
 "layer": [
  {"data": {"name": "dp"}, "transform": [{"filter": "datum.s == 'post'"}], "mark": {"type": "line", "strokeWidth": 2, "interpolate": "monotone"}, "encoding": {"color": {"field": "s", "type": "nominal", "scale": {"domain": ["pre","post"], "range": ["#111111","#999999"]}, "legend": {"title": null, "labelExpr": "datum.label == 'pre' ? 'Pre-adapt responses' : 'Post-adapt responses'"}}}},
  {"data": {"name": "dp"}, "transform": [{"filter": "datum.s == 'pre'"}], "mark": {"type": "line", "strokeWidth": 2.5, "interpolate": "monotone"}, "encoding": {"color": {"field": "s", "type": "nominal"}}}
 ]},
{"width": 262, "height": 125, "title": {"text": "JW (24 yrs)", "frame": "bounds", "anchor": "middle", "offset": 11},
 "encoding": {
  "x": {"field": "t", "type": "quantitative", "scale": {"domain": [-40, 2510], "nice": false, "zero": false}, "axis": {"values": [250,500,750,1000,1250,1500,1750,2000,2250,2500], "labelExpr": "datum.value % 500 == 250 ? datum.label : ''", "format": "d", "title": null}},
  "y": {"field": "v", "type": "quantitative", "scale": {"domain": [0, 3], "nice": false}, "axis": {"values": [0.5,1,1.5,2,2.5,3], "format": ".1f", "title": null}}
 },
 "layer": [
  {"data": {"name": "jp"}, "transform": [{"filter": "datum.s == 'post'"}], "mark": {"type": "line", "strokeWidth": 2, "interpolate": "monotone"}, "encoding": {"color": {"field": "s", "type": "nominal"}}},
  {"data": {"name": "jp"}, "transform": [{"filter": "datum.s == 'pre'"}], "mark": {"type": "line", "strokeWidth": 2.5, "interpolate": "monotone"}, "encoding": {"color": {"field": "s", "type": "nominal"}}},
  {"data": {"name": "jpr"}, "mark": {"type": "rule", "strokeWidth": 2}, "encoding": {"x2": {"field": "t2"}, "y2": {"field": "v2"}, "color": {"field": "s", "type": "nominal"}}},
  {"data": {"name": "jparr"}, "mark": {"type": "point", "shape": "triangle-down", "filled": true, "size": 50, "opacity": 1}, "encoding": {"color": {"field": "s", "type": "nominal"}}},
  {"data": {"name": "jpt"}, "mark": {"type": "text", "align": "left", "baseline": "middle", "fontSize": 11.5, "fontWeight": "bold"}, "encoding": {"text": {"field": "label"}, "color": {"field": "s", "type": "nominal"}}},
  {"data": {"name": "jpt"}, "mark": {"type": "text", "align": "left", "baseline": "middle", "fontSize": 11.5, "fontWeight": "bold", "dx": 44, "dy": 4}, "encoding": {"text": {"field": "sub"}, "color": {"field": "s", "type": "nominal"}}}
 ]},
{"width": 262, "height": 125, "title": {"text": "KC (34 yrs)", "frame": "bounds", "anchor": "middle", "offset": 11},
 "encoding": {
  "x": {"field": "t", "type": "quantitative", "scale": {"domain": [-30, 2500], "nice": false, "zero": false}, "axis": {"values": [250,500,750,1000,1250,1500,1750,2000,2250,2500], "labelExpr": "datum.value % 500 == 250 ? datum.label : ''", "format": "d", "title": null}},
  "y": {"field": "v", "type": "quantitative", "scale": {"domain": [0, 3], "nice": false}, "axis": {"values": [0.5,1,1.5,2,2.5,3], "format": ".1f", "title": null}}
 },
 "layer": [
  {"data": {"name": "kp"}, "transform": [{"filter": "datum.s == 'post'"}], "mark": {"type": "line", "strokeWidth": 2, "interpolate": "monotone"}, "encoding": {"color": {"field": "s", "type": "nominal"}}},
  {"data": {"name": "kp"}, "transform": [{"filter": "datum.s == 'pre'"}], "mark": {"type": "line", "strokeWidth": 2.5, "interpolate": "monotone"}, "encoding": {"color": {"field": "s", "type": "nominal"}}}
 ]},
{"width": 262, "height": 122,
 "encoding": {
  "x": {"field": "t", "type": "quantitative", "scale": {"domain": [-10, 2520], "nice": false, "zero": false}, "axis": {"values": [250,500,750,1000,1250,1500,1750,2000,2250,2500], "labelExpr": "datum.value % 500 == 250 ? datum.label : ''", "format": "d", "title": null, "offset": -24.4}},
  "y": {"field": "v", "type": "quantitative", "scale": {"domain": [-3, 12], "nice": false, "zero": false}, "axis": {"values": [-3,0,3,6,9,12], "labelExpr": "datum.value == 0 ? '0' : format(datum.value, '.1f')", "title": "Velocity (D/s)", "titleY": 61}}
 },
 "layer": [
  {"data": {"name": "dv"}, "transform": [{"filter": "datum.s == 'post'"}], "mark": {"type": "line", "strokeWidth": 2, "interpolate": "monotone"}, "encoding": {"color": {"field": "s", "type": "nominal"}}},
  {"data": {"name": "dv"}, "transform": [{"filter": "datum.s == 'pre'"}], "mark": {"type": "line", "strokeWidth": 2.5, "interpolate": "monotone"}, "encoding": {"color": {"field": "s", "type": "nominal"}}}
 ]},
{"width": 262, "height": 122,
 "encoding": {
  "x": {"field": "t", "type": "quantitative", "scale": {"domain": [-40, 2510], "nice": false, "zero": false}, "axis": {"values": [250,500,750,1000,1250,1500,1750,2000,2250,2500], "labelExpr": "datum.value % 500 == 250 ? datum.label : ''", "format": "d", "title": null, "offset": -24.4}},
  "y": {"field": "v", "type": "quantitative", "scale": {"domain": [-3, 12], "nice": false, "zero": false}, "axis": {"values": [-3,0,3,6,9,12], "labelExpr": "datum.value == 0 ? '0' : format(datum.value, '.1f')", "title": null}}
 },
 "layer": [
  {"data": {"name": "jv"}, "transform": [{"filter": "datum.s == 'post'"}], "mark": {"type": "line", "strokeWidth": 2, "interpolate": "monotone"}, "encoding": {"color": {"field": "s", "type": "nominal"}}},
  {"data": {"name": "jv"}, "transform": [{"filter": "datum.s == 'pre'"}], "mark": {"type": "line", "strokeWidth": 2.5, "interpolate": "monotone"}, "encoding": {"color": {"field": "s", "type": "nominal"}}},
  {"data": {"name": "jvr"}, "mark": {"type": "rule", "strokeWidth": 2}, "encoding": {"x2": {"field": "t2"}, "color": {"field": "s", "type": "nominal"}}},
  {"data": {"name": "jvarr"}, "mark": {"type": "point", "shape": "triangle-left", "filled": true, "size": 50, "opacity": 1}, "encoding": {"color": {"field": "s", "type": "nominal"}}},
  {"data": {"name": "jvt"}, "mark": {"type": "text", "align": "left", "baseline": "middle", "fontSize": 12, "fontWeight": "bold"}, "encoding": {"text": {"field": "label"}, "color": {"field": "s", "type": "nominal"}}},
  {"data": {"name": "jvt"}, "mark": {"type": "text", "align": "left", "baseline": "middle", "fontSize": 12, "fontWeight": "bold", "dx": 35, "dy": 4}, "encoding": {"text": {"field": "sub"}, "color": {"field": "s", "type": "nominal"}}}
 ]},
{"width": 262, "height": 122,
 "encoding": {
  "x": {"field": "t", "type": "quantitative", "scale": {"domain": [-30, 2500], "nice": false, "zero": false}, "axis": {"values": [250,500,750,1000,1250,1500,1750,2000,2250,2500], "labelExpr": "datum.value % 500 == 250 ? datum.label : ''", "format": "d", "title": null, "offset": -24.4}},
  "y": {"field": "v", "type": "quantitative", "scale": {"domain": [-3, 12], "nice": false, "zero": false}, "axis": {"values": [-3,0,3,6,9,12], "labelExpr": "datum.value == 0 ? '0' : format(datum.value, '.1f')", "title": null}}
 },
 "layer": [
  {"data": {"name": "kv"}, "transform": [{"filter": "datum.s == 'post'"}], "mark": {"type": "line", "strokeWidth": 2, "interpolate": "monotone"}, "encoding": {"color": {"field": "s", "type": "nominal"}}},
  {"data": {"name": "kv"}, "transform": [{"filter": "datum.s == 'pre'"}], "mark": {"type": "line", "strokeWidth": 2.5, "interpolate": "monotone"}, "encoding": {"color": {"field": "s", "type": "nominal"}}}
 ]},
{"width": 262, "height": 140,
 "encoding": {
  "x": {"field": "t", "type": "quantitative", "scale": {"domain": [-10, 2520], "nice": false, "zero": false}, "axis": {"values": [250,500,750,1000,1250,1500,1750,2000,2250,2500], "labelExpr": "datum.value % 500 == 250 ? datum.label : ''", "format": "d", "title": null, "offset": -70}},
  "y": {"field": "v", "type": "quantitative", "scale": {"domain": [-80, 80], "nice": false}, "axis": {"values": [-80,-40,0,40,80], "format": ".1f", "title": "Acceleration (D/s²)", "titleY": 70}}
 },
 "layer": [
  {"data": {"name": "da"}, "transform": [{"filter": "datum.s == 'post'"}], "mark": {"type": "line", "strokeWidth": 2, "interpolate": "monotone"}, "encoding": {"color": {"field": "s", "type": "nominal"}}},
  {"data": {"name": "da"}, "transform": [{"filter": "datum.s == 'pre'"}], "mark": {"type": "line", "strokeWidth": 2.5, "interpolate": "monotone"}, "encoding": {"color": {"field": "s", "type": "nominal"}}}
 ]},
{"width": 262, "height": 140,
 "encoding": {
  "x": {"field": "t", "type": "quantitative", "scale": {"domain": [-40, 2510], "nice": false, "zero": false}, "axis": {"values": [250,500,750,1000,1250,1500,1750,2000,2250,2500], "labelExpr": "datum.value % 500 == 250 ? datum.label : ''", "format": "d", "title": "Time (Ms)", "offset": -70, "titleY": 89, "titleBaseline": "middle"}},
  "y": {"field": "v", "type": "quantitative", "scale": {"domain": [-80, 80], "nice": false}, "axis": {"values": [-80,-40,0,40,80], "format": ".1f", "title": null}}
 },
 "layer": [
  {"data": {"name": "ja"}, "transform": [{"filter": "datum.s == 'post'"}], "mark": {"type": "line", "strokeWidth": 2, "interpolate": "monotone"}, "encoding": {"color": {"field": "s", "type": "nominal"}}},
  {"data": {"name": "ja"}, "transform": [{"filter": "datum.s == 'pre'"}], "mark": {"type": "line", "strokeWidth": 2.5, "interpolate": "monotone"}, "encoding": {"color": {"field": "s", "type": "nominal"}}},
  {"data": {"name": "jar"}, "mark": {"type": "rule", "strokeWidth": 2}, "encoding": {"x2": {"field": "t2"}, "color": {"field": "s", "type": "nominal"}}},
  {"data": {"name": "jaarr"}, "mark": {"type": "point", "shape": "triangle-left", "filled": true, "size": 50, "opacity": 1}, "encoding": {"color": {"field": "s", "type": "nominal"}}},
  {"data": {"name": "jat"}, "mark": {"type": "text", "align": "left", "baseline": "middle", "fontSize": 12, "fontWeight": "bold"}, "encoding": {"text": {"field": "label"}, "color": {"field": "s", "type": "nominal"}}},
  {"data": {"name": "jat"}, "mark": {"type": "text", "align": "left", "baseline": "middle", "fontSize": 12, "fontWeight": "bold", "dx": 48, "dy": 4}, "encoding": {"text": {"field": "sub"}, "color": {"field": "s", "type": "nominal"}}}
 ]},
{"width": 262, "height": 140,
 "encoding": {
  "x": {"field": "t", "type": "quantitative", "scale": {"domain": [-30, 2500], "nice": false, "zero": false}, "axis": {"values": [250,500,750,1000,1250,1500,1750,2000,2250,2500], "labelExpr": "datum.value % 500 == 250 ? datum.label : ''", "format": "d", "title": null, "offset": -70}},
  "y": {"field": "v", "type": "quantitative", "scale": {"domain": [-80, 80], "nice": false}, "axis": {"values": [-80,-40,0,40,80], "format": ".1f", "title": null}}
 },
 "layer": [
  {"data": {"name": "ka"}, "transform": [{"filter": "datum.s == 'post'"}], "mark": {"type": "line", "strokeWidth": 2, "interpolate": "monotone"}, "encoding": {"color": {"field": "s", "type": "nominal"}}},
  {"data": {"name": "ka"}, "transform": [{"filter": "datum.s == 'pre'"}], "mark": {"type": "line", "strokeWidth": 2.5, "interpolate": "monotone"}, "encoding": {"color": {"field": "s", "type": "nominal"}}}
 ]}
],
"config": {
 "font": "Liberation Sans",
 "view": {"stroke": null},
 "axis": {"grid": false, "domainColor": "#222", "domainWidth": 1.5, "tickColor": "#222", "tickWidth": 1.5, "tickSize": -4, "labelFontSize": 12, "labelFontWeight": "bold", "labelColor": "#222", "labelFont": "Liberation Sans", "titleFontSize": 16, "titleFontWeight": "bold", "titleColor": "#111", "titleFont": "Liberation Sans"},
 "axisX": {"labelPadding": 10, "labelFlush": false, "labelOverlap": false},
 "axisY": {"labelPadding": 9, "titleAngle": -90, "titleX": -36, "titleAlign": "center", "titleBaseline": "bottom"},
 "title": {"fontSize": 16, "fontWeight": "bold", "color": "#111", "font": "Liberation Sans"},
 "legend": {"orient": "bottom", "direction": "horizontal", "symbolType": "stroke", "symbolSize": 1000, "symbolStrokeWidth": 3, "labelFontSize": 17.5, "labelFontWeight": "bold", "labelColor": "#111", "labelFont": "Liberation Sans", "columnPadding": 25, "labelOffset": 8, "offset": 9, "labelLimit": 300, "layout": {"bottom": {"anchor": "middle"}}}
}
}
